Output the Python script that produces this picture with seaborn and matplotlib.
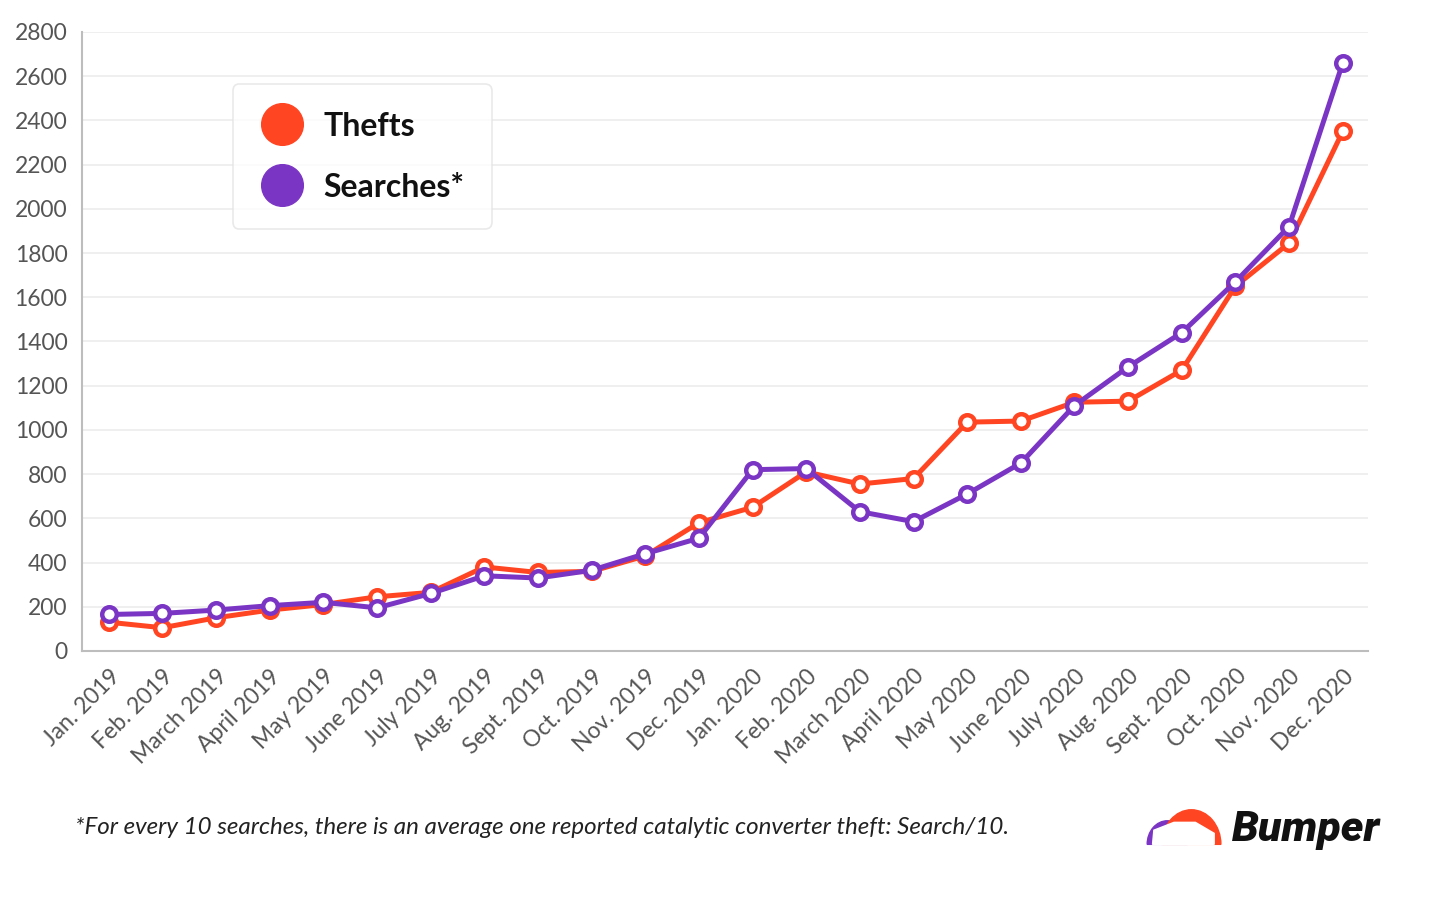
import pandas as pd
import matplotlib.pyplot as plt
import seaborn as sns
from matplotlib.lines import Line2D
from matplotlib.patches import Wedge

months = ['Jan. 2019', 'Feb. 2019', 'March 2019', 'April 2019', 'May 2019', 'June 2019',
          'July 2019', 'Aug. 2019', 'Sept. 2019', 'Oct. 2019', 'Nov. 2019', 'Dec. 2019',
          'Jan. 2020', 'Feb. 2020', 'March 2020', 'April 2020', 'May 2020', 'June 2020',
          'July 2020', 'Aug. 2020', 'Sept. 2020', 'Oct. 2020', 'Nov. 2020', 'Dec. 2020']
thefts = [130, 105, 150, 185, 210, 245, 265, 380, 355, 360, 430, 580,
          650, 810, 755, 780, 1035, 1040, 1125, 1130, 1270, 1650, 1845, 2350]
searches = [165, 170, 185, 205, 220, 195, 260, 340, 330, 365, 440, 510,
            820, 825, 630, 585, 710, 850, 1110, 1285, 1440, 1670, 1920, 2660]
yticks = list(range(0, 2801, 200))
footnote = '*For every 10 searches, there is an average one reported catalytic converter theft: Search/10.'

ORANGE = '#ff4522'
PURPLE = '#7b35c4'

sns.set_style('white')
plt.rcParams['font.family'] = ['Lato', 'DejaVu Sans']

# long form table for seaborn
df = pd.DataFrame({
    'month': list(range(len(months))) * 2,
    'value': thefts + searches,
    'series': ['Thefts'] * len(months) + ['Searches'] * len(months),
})

fig = plt.figure(figsize=(14.36, 8.98), dpi=100)
ax = fig.add_axes([0.0571, 0.2751, 0.8955, 0.6893])

sns.lineplot(data=df, x='month', y='value', hue='series', hue_order=['Thefts', 'Searches'],
             palette={'Thefts': ORANGE, 'Searches': PURPLE}, linewidth=3.6,
             marker='o', markersize=10.5, markerfacecolor='white', markeredgewidth=3.2,
             legend=False, ax=ax)
# make marker edges follow line colour
for line in ax.get_lines():
    line.set_markeredgecolor(line.get_color())

ax.set_xlim(-0.5, len(months) - 0.53)
ax.set_ylim(0, 2800)
ax.set_yticks(yticks)
ax.set_xticks(range(len(months)))
ax.set_xticklabels(months, rotation=45, ha='right', rotation_mode='anchor')
ax.set_xlabel('')
ax.set_ylabel('')
ax.grid(axis='y', color='#ececec', linewidth=1.2)
ax.set_axisbelow(True)
for s in ['top', 'right']:
    ax.spines[s].set_visible(False)
for s in ['left', 'bottom']:
    ax.spines[s].set_color('#bdbdbd')
    ax.spines[s].set_linewidth(1.5)
ax.tick_params(axis='both', colors='#bdbdbd', labelcolor='#555555', labelsize=16.5,
               length=7, width=1.5, direction='out')

# legend
handles = [Line2D([], [], linestyle='', marker='o', markersize=30, color=ORANGE, label='Thefts'),
           Line2D([], [], linestyle='', marker='o', markersize=30, color=PURPLE, label='Searches*')]
leg = fig.legend(handles=handles, loc='upper left', bbox_to_anchor=(0.162, 0.906),
                 fontsize=23, frameon=True, fancybox=True, handletextpad=0.6,
                 labelspacing=1.0, borderpad=0.85, handlelength=1.4, borderaxespad=0,
                 prop={'size': 23, 'weight': 'bold'})
leg.get_frame().set_edgecolor('#e4e4e4')
leg.get_frame().set_linewidth(1.2)
for t in leg.get_texts():
    t.set_color('#111111')

# footnote and logo
fig.text(0.052, 0.078, footnote, fontsize=17.4, style='italic', color='#222222', va='center')
fig.text(0.858, 0.076, 'Bumper', fontsize=31, fontweight='black', style='italic',
         color='#111111', va='center', family=['Roboto', 'DejaVu Sans'])
logo = fig.add_axes([0.797, 0.058, 0.056, 0.042])
logo.set_xlim(0, 3)
logo.set_ylim(0, 1.2)
logo.axis('off')
logo.add_patch(Wedge((0.85, 0.05), 0.75, 0, 180, color=PURPLE))
logo.add_patch(Wedge((1.75, 0.05), 1.1, 0, 180, color=ORANGE))
logo.add_patch(plt.Polygon([[0.3, 0.05], [0.35, 0.5], [1.1, 0.75], [1.9, 0.75], [2.6, 0.4],
                            [2.6, 0.05]], closed=True, color='white'))

fig.savefig('out.png', dpi=100)
